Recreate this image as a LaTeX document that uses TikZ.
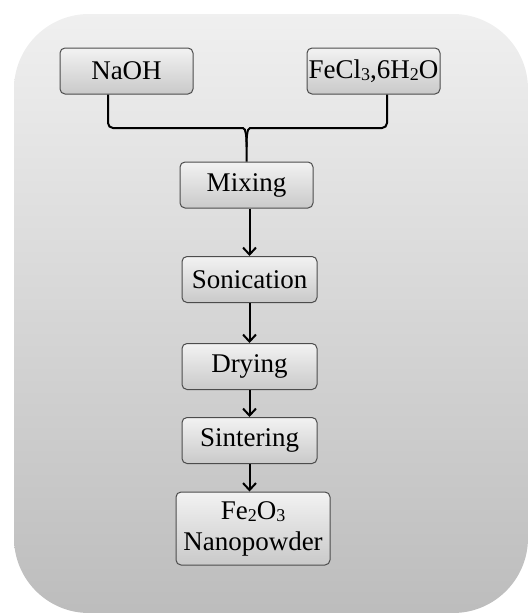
\documentclass[tikz,border=0pt]{standalone}
\usepackage{fontspec}
\setmainfont{Liberation Serif}
\usepackage{tikz}
\usetikzlibrary{arrows.meta}
\definecolor{panelTop}{gray}{0.94}
\definecolor{panelBot}{gray}{0.74}
\definecolor{boxTop}{gray}{0.95}
\definecolor{boxBot}{gray}{0.79}
\definecolor{boxLine}{gray}{0.3}
\newcommand{\chemsub}[1]{\raisebox{-0.2ex}{\fontsize{18}{18}\selectfont #1}}

\begin{document}
\begin{tikzpicture}[x=1pt, y=-1pt,
    stage/.style={draw=boxLine, line width=1pt, rounded corners=5pt, top color=boxTop, bottom color=boxBot,
      minimum width=133pt, minimum height=46pt, inner sep=0pt, align=center, font=\fontsize{27}{31}\selectfont},
    link/.style={line width=2pt, rounded corners=5pt},
    flow/.style={line width=2pt, -{Straight Barb[length=7pt, width=13pt, line width=2pt]}}]
  \useasboundingbox (0,0) rectangle (528,613);
  \shade[top color=panelTop, bottom color=panelBot, rounded corners=75pt] (14,14) rectangle (528,613);
  % inputs
  \node[stage] (naoh) at (126.5,71) {NaOH};
  \node[stage] (fecl) at (373.5,71) {FeCl\chemsub{3},6H\chemsub{2}O};
  % process chain
  \node[stage] (mix) at (246.5,185) {Mixing};
  \node[stage, minimum width=135pt] (sonic) at (249.5,279.5) {Sonication};
  \node[stage, minimum width=135pt] (dry) at (249.5,366.5) {Drying};
  \node[stage, minimum width=135pt] (sinter) at (249.5,440.5) {Sintering};
  \node[stage, minimum width=154pt, minimum height=73pt] (powder) at (253,528.5) {Fe\chemsub{2}O\chemsub{3}\\Nanopowder};
  % joining bracket
  \draw[link] ([xshift=-18.5pt]naoh.south) |- (238,128) to[out=0, in=90] (mix.north |- 0,147) -- (mix.north);
  \draw[link] ([xshift=13.5pt]fecl.south) |- (255,128) to[out=180, in=90] (mix.north |- 0,147);
  % arrows
  \draw[flow] (mix.south -| sonic.north) -- (sonic.north);
  \draw[flow] (sonic) -- (dry);
  \draw[flow] (dry) -- (sinter);
  \draw[flow] (sinter.south) -- (sinter.south |- powder.north);
\end{tikzpicture}
\end{document}
